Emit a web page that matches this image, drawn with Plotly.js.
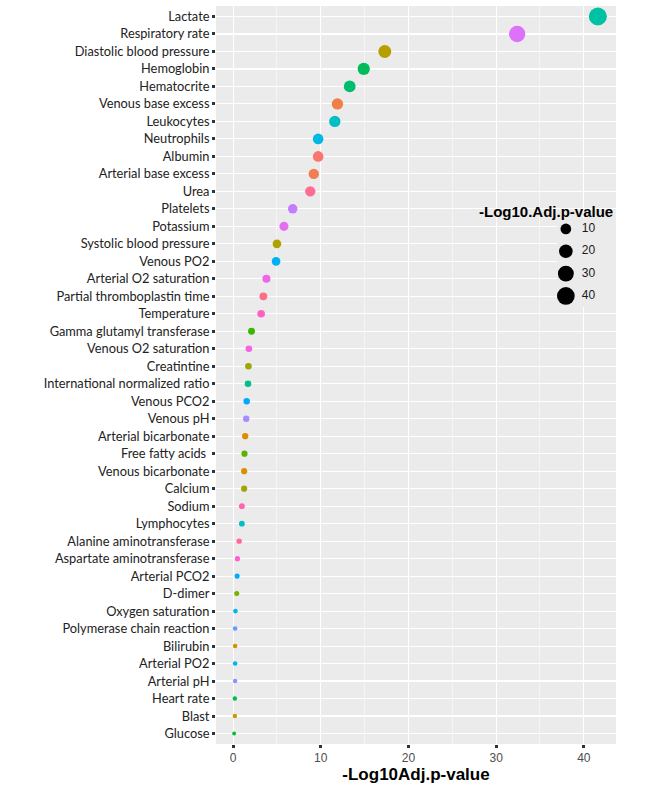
<!DOCTYPE html>
<html>
<head>
<meta charset="utf-8">
<script src="https://cdn.plot.ly/plotly-3.0.1.min.js"></script>
<style>
  html, body { margin: 0; padding: 0; background: #fff; }
  #chart { width: 655px; height: 786px; }
</style>
</head>
<body>
<div id="chart"></div>
<script>
// variables, top to bottom as in the figure
const variables = [
  'Lactate', 'Respiratory rate', 'Diastolic blood pressure', 'Hemoglobin', 'Hematocrite',
  'Venous base excess', 'Leukocytes', 'Neutrophils', 'Albumin', 'Arterial base excess',
  'Urea', 'Platelets', 'Potassium', 'Systolic blood pressure', 'Venous PO2',
  'Arterial O2 saturation', 'Partial thromboplastin time', 'Temperature', 'Gamma glutamyl transferase', 'Venous O2 saturation',
  'Creatintine', 'International normalized ratio', 'Venous PCO2', 'Venous pH', 'Arterial bicarbonate',
  'Free fatty acids ', 'Venous bicarbonate', 'Calcium', 'Sodium', 'Lymphocytes',
  'Alanine aminotransferase', 'Aspartate aminotransferase', 'Arterial PCO2', 'D-dimer', 'Oxygen saturation',
  'Polymerase chain reaction', 'Bilirubin', 'Arterial PO2', 'Arterial pH', 'Heart rate',
  'Blast', 'Glucose'
];

// -Log10 adjusted p-value
const logP = [
  41.6, 32.4, 17.3, 14.9, 13.3,
  11.9, 11.6, 9.7, 9.7, 9.2,
  8.8, 6.8, 5.8, 5.0, 4.9,
  3.8, 3.45, 3.2, 2.1, 1.8,
  1.75, 1.7, 1.55, 1.5, 1.38,
  1.3, 1.26, 1.26, 1.0, 1.0,
  0.69, 0.5, 0.46, 0.42, 0.27,
  0.23, 0.23, 0.23, 0.23, 0.2,
  0.2, 0.12
];

// size legend breaks
const sizeBreaks = [10, 20, 30, 40];

// point colours (ggplot hue palette)
const colors = [
  '#00C1A3', '#DE71F9', '#B79F00', '#00BC5A', '#00BD6E',
  '#EF7F43', '#00BFC4', '#00B9E3', '#F8766D', '#F27D52',
  '#FF6C91', '#C77CFF', '#E46FF2', '#ABA300', '#00B0F6',
  '#EE66E8', '#FD6F86', '#FF61C3', '#39B600', '#F564E3',
  '#9AA800', '#00C08B', '#00A9FF', '#A98AFF', '#DE8C00',
  '#5BB300', '#D89000', '#A3A500', '#FF64B0', '#00BFC4',
  '#FF6A98', '#FD61D1', '#00ABFD', '#7CAE00', '#00B4EF',
  '#619CFF', '#CF9400', '#00B2F3', '#8F91FF', '#00BB4E',
  '#C99800', '#00BA38'
];

// ggplot-like area size scale: diameter grows with sqrt of rescaled value
const vMin = Math.min(...logP), vMax = Math.max(...logP);
const diam = v => 3.8 + 14.2 * Math.sqrt(Math.max(0, (v - vMin) / (vMax - vMin)));

const traces = [
  {
    type: 'scatter', mode: 'markers',
    x: logP, y: variables,
    marker: { size: logP.map(diam), color: colors, line: { width: 0 }, opacity: 1 },
    hoverinfo: 'skip', showlegend: false
  },
  // size legend keys
  {
    type: 'scatter', mode: 'markers',
    x: sizeBreaks.map(() => 0.15), y: sizeBreaks,
    xaxis: 'x2', yaxis: 'y2',
    opacity: 1,
    marker: { size: sizeBreaks.map(diam), color: 'rgb(0,0,0)', opacity: 1, line: { width: 0 } },
    hoverinfo: 'skip', showlegend: false, cliponaxis: false
  },
  {
    type: 'scatter', mode: 'text',
    x: sizeBreaks.map(() => 0.42), y: sizeBreaks,
    xaxis: 'x2', yaxis: 'y2',
    text: sizeBreaks.map(String), textposition: 'middle right',
    textfont: { family: 'Liberation Sans, Arial, sans-serif', size: 12, color: '#1a1a1a' },
    hoverinfo: 'skip', showlegend: false, cliponaxis: false
  }
];

const layout = {
  width: 655, height: 786,
  margin: { l: 216, r: 39, t: 6, b: 42 },
  paper_bgcolor: '#ffffff',
  plot_bgcolor: '#EBEBEB',
  showlegend: false,
  font: { family: 'Liberation Sans, Arial, sans-serif', color: '#333333' },
  xaxis: {
    domain: [0, 1], anchor: 'y',
    range: [-1.95, 43.67],
    tickvals: [0, 10, 20, 30, 40],
    ticks: 'outside', ticklen: 3, tickwidth: 3, tickcolor: '#333333',
    tickfont: { family: 'Liberation Sans, Arial, sans-serif', size: 12, color: '#4D4D4D' },
    showgrid: true, gridcolor: '#ffffff', gridwidth: 1.1,
    minor: { dtick: 5, tick0: 5, showgrid: true, gridcolor: '#ffffff', gridwidth: 0.5 },
    zeroline: false, showline: false,
    title: { text: '<b>-Log10Adj.p-value</b>', font: { family: 'Liberation Sans, Arial, sans-serif', size: 17, color: '#000000' }, standoff: 0 }
  },
  yaxis: {
    domain: [0, 1], anchor: 'x',
    type: 'category',
    categoryorder: 'array', categoryarray: variables,
    range: [41.6, -0.6],
    ticks: 'outside', ticklen: 3, tickwidth: 3, tickcolor: '#333333',
    tickfont: { family: 'Lato, Open Sans, sans-serif', size: 12.8, color: '#222222' },
    showgrid: true, gridcolor: '#ffffff', gridwidth: 1.1,
    zeroline: false, showline: false
  },
  xaxis2: {
    domain: [0.8525, 1], range: [0, 1],
    anchor: 'y2',
    visible: false, fixedrange: true
  },
  yaxis2: {
    domain: [0.592, 0.713], range: [45, 5],
    anchor: 'x2',
    visible: false, fixedrange: true
  },
  annotations: [
    {
      text: '<b>-Log10.Adj.p-value</b>',
      xref: 'paper', yref: 'paper', x: 0.9975, y: 0.722,
      xanchor: 'right', yanchor: 'middle', showarrow: false,
      font: { family: 'Liberation Sans, Arial, sans-serif', size: 15, color: '#000000' }
    }
  ]
};

Plotly.newPlot('chart', traces, layout, { staticPlot: true, displayModeBar: false });
</script>
</body>
</html>
